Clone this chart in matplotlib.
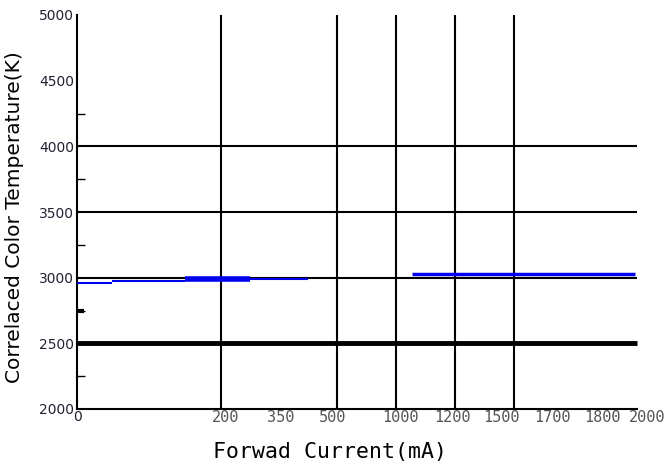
import matplotlib
matplotlib.use("Agg")
from matplotlib import pyplot as plt

# grid / reference lines
grid_y = [2500, 3000, 3500, 4000]
grid_x = [515, 930, 1140, 1350, 1560]

# measured CCT segments (start mA, end mA, CCT)
seg_start = [0, 125, 386, 618, 1196]
seg_end = [125, 386, 618, 825, 1993]
seg_cct = [2960, 2975, 2988, 2992, 3028]
seg_width = [1.5, 1.5, 4.0, 1.5, 2.5]

marker_cct = 2750

xtick_pos = [0, 532, 729, 914, 1154, 1339, 1514, 1696, 1875, 2036]
xtick_lab = ["0", "200", "350", "500", "1000", "1200", "1500", "1700", "1800", "2000"]
ytick_pos = [2000, 2500, 3000, 3500, 4000, 4500, 5000]
yminor_pos = [2250, 2750, 3250, 3750, 4250]

fig = plt.figure(figsize=(6.71, 4.70), dpi=100)
ax = fig.add_axes([77/671, 61/470, 594/671, 394/470])

ax.set_xlim(0, 2121)
ax.set_ylim(2000, 5000)

for y in grid_y:
    ax.hlines(y, 0, 2000, color="black", linewidth=3.5 if y == 2500 else 1.5, zorder=2)
ax.vlines(grid_x, 2000, 5000, color="black", linewidth=1.5, zorder=2)

for x0, x1, c, w in zip(seg_start, seg_end, seg_cct, seg_width):
    ax.plot([x0, x1], [c, c], color="#0000ee", linewidth=w, solid_capstyle="butt", zorder=3)

# short thick mark on the axis
ax.hlines(marker_cct, 0, 25, color="black", linewidth=3, zorder=3)

for s in ["top", "right"]:
    ax.spines[s].set_visible(False)
ax.spines["bottom"].set_bounds(0, 2000)
ax.spines["left"].set_linewidth(1.5)
ax.spines["bottom"].set_linewidth(1.5)

ax.set_yticks(ytick_pos)
ax.set_yticks(yminor_pos, minor=True)
ax.tick_params(axis="y", which="major", length=0, pad=2, labelsize=10, labelcolor="#222233")
ax.tick_params(axis="y", which="minor", direction="in", length=6, width=1)
ax.set_xticks(xtick_pos)
ax.set_xticklabels(xtick_lab, family="DejaVu Sans Mono", fontsize=11, color="#555555")
ax.tick_params(axis="x", length=0, pad=1)
for lab in ax.get_xticklabels():
    if lab.get_text() == "0":
        lab.set_color("#222233")
        lab.set_family("DejaVu Sans")
        lab.set_fontsize(10)

fig.text(330/671, 1 - 452/470, "Forwad Current(mA)", ha="center", va="center",
         family="DejaVu Sans Mono", fontsize=15.5)
fig.text(15/671, 1 - 217/470, "Correlaced Color Temperature(K)", ha="center", va="center",
         rotation=90, fontsize=14.5)

fig.savefig("out.png", dpi=100)
